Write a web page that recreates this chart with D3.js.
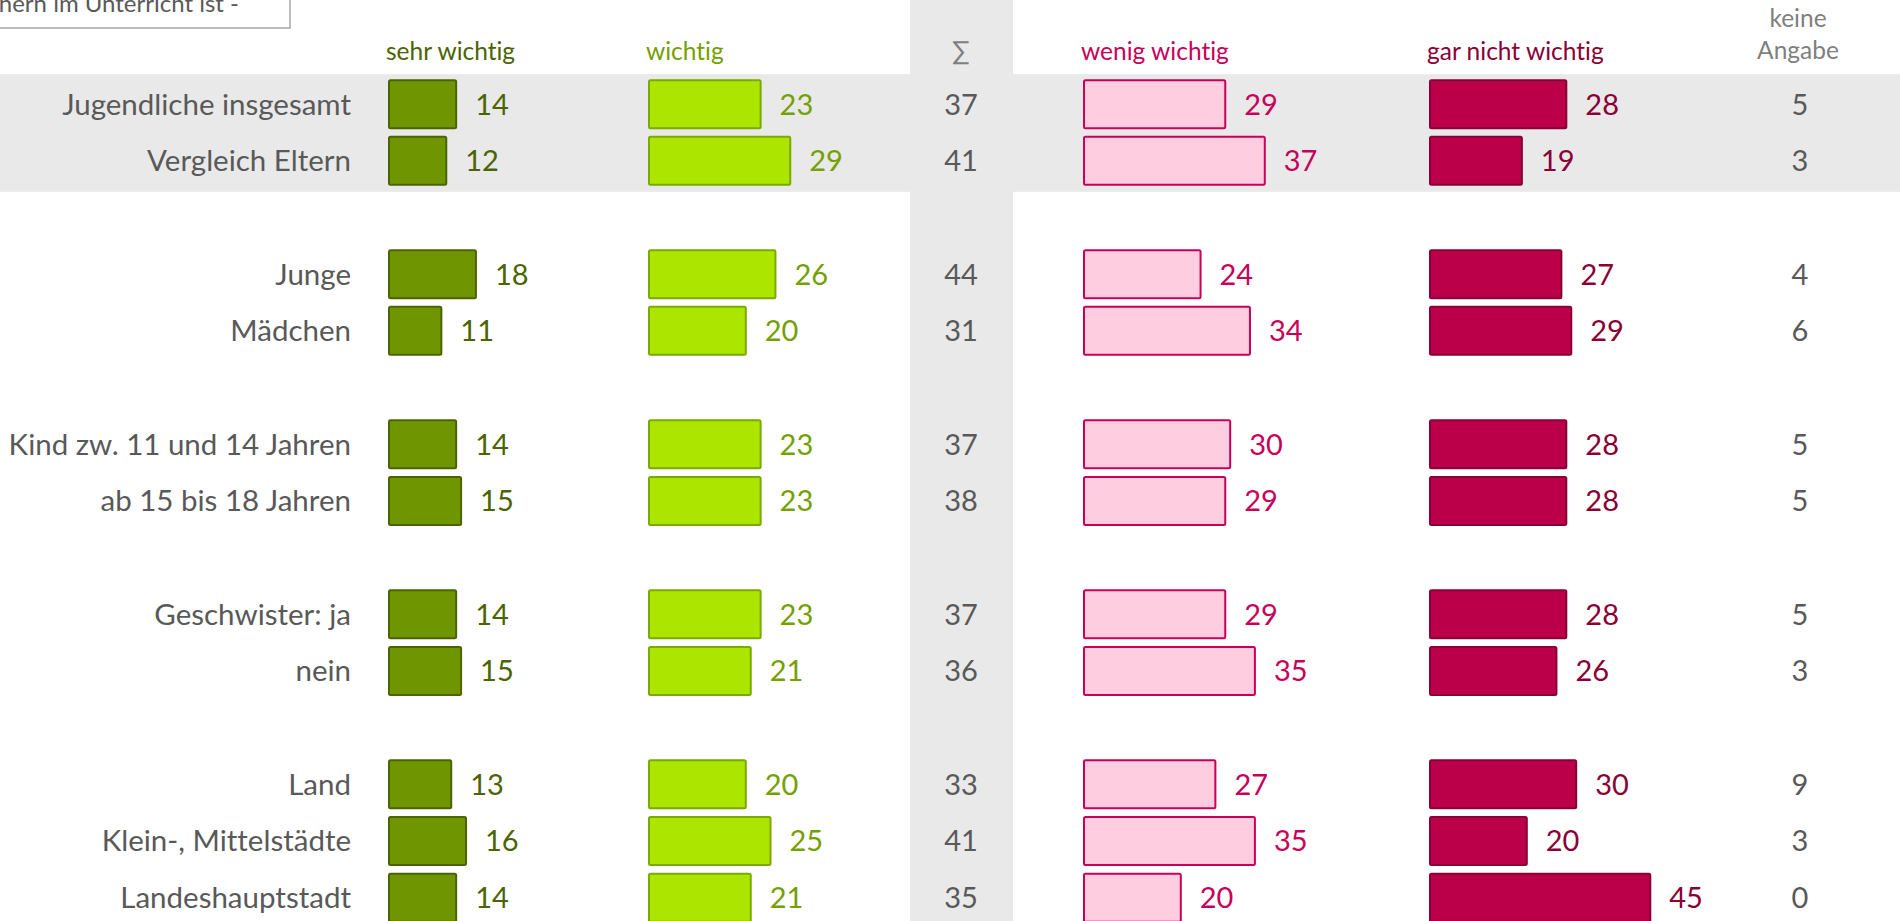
<!DOCTYPE html>
<html>
<head>
<meta charset="utf-8">
<script src="https://cdn.jsdelivr.net/npm/d3@7"></script>
<style>
  html, body { margin: 0; padding: 0; background: #fff; overflow: hidden; }
  svg { display: block; font-family: Lato, "Open Sans", sans-serif; font-variant-ligatures: none; }
</style>
</head>
<body>
<svg id="chart"></svg>
<script>
// categories, grouped (a blank row sits between groups)
var rows = ['Jugendliche insgesamt', 'Vergleich Eltern', 'Junge', 'Mädchen',
  'Kind zw. 11 und 14 Jahren', 'ab 15 bis 18 Jahren', 'Geschwister: ja', 'nein',
  'Land', 'Klein-, Mittelstädte', 'Landeshauptstadt']
var group = [0, 0, 1, 1, 2, 2, 3, 3, 4, 4, 4]

var sehrWichtig  = [14, 12, 18, 11, 14, 15, 14, 15, 13, 16, 14]
var wichtig      = [23, 29, 26, 20, 23, 23, 23, 21, 20, 25, 21]
var summe        = [37, 41, 44, 31, 37, 38, 37, 36, 33, 41, 35]
var wenigWichtig = [29, 37, 24, 34, 30, 29, 29, 35, 27, 35, 20]
var garNicht     = [28, 19, 27, 29, 28, 28, 28, 26, 30, 20, 45]
var keineAngabe  = [5, 3, 4, 6, 5, 5, 5, 3, 9, 3, 0]

var W = 1900, H = 921
  , step = 56.68
  , top0 = 104.15 - step / 2
  , grey = '#e9e9e9'
  , textGrey = '#595959'
  , fs = 29

var svg = d3.select('#chart').attr('width', W).attr('height', H)

var y = d3.scaleBand()
  .domain(d3.range(15))
  .range([top0, top0 + 15 * step])
  .paddingInner(0.118)
  .paddingOuter(0.059)

var x = d3.scaleLinear().domain([0, 100]).range([0, 494])

function slot(i){ return i + group[i] }
function mid(i){ return y(slot(i)) + y.bandwidth() / 2 }

// grey backgrounds: total rows and the sum column
svg.append('rect')
  .attr('x', 0).attr('width', W)
  .attr('y', y(0) - 5).attr('height', y(1) + y.bandwidth() - y(0) + 11)
  .attr('fill', grey)
svg.append('rect')
  .attr('x', 910).attr('width', 103).attr('y', 0).attr('height', H)
  .attr('fill', grey)

// cut-off title box
svg.append('rect')
  .attr('x', -10).attr('y', -10).attr('width', 300).attr('height', 38)
  .attr('fill', '#fff').attr('stroke', '#a6a6a6').attr('stroke-width', 1.5)
svg.append('text')
  .attr('x', 239).attr('y', 12).attr('text-anchor', 'end')
  .attr('font-size', 24).attr('fill', textGrey)
  .text('hern im Unterricht ist -')

// row labels
svg.append('g').selectAll('text').data(rows)
  .enter().append('text')
    .attr('x', 351).attr('y', function(d, i){ return mid(i) + 10.5 })
    .attr('text-anchor', 'end')
    .attr('font-size', 29.5).attr('fill', textGrey)
    .text(function(d){ return d })

var series = [
    { name: 'sehr wichtig', values: sehrWichtig, x0: 388, fill: '#6f9600', stroke: '#4b6400', label: '#4b6400', head: '#4b6400' }
  , { name: 'wichtig', values: wichtig, x0: 648, fill: '#ace600', stroke: '#7aaa00', label: '#74a000', head: '#74a000' }
  , { name: 'wenig wichtig', values: wenigWichtig, x0: 1083, fill: '#ffcce0', stroke: '#c8005a', label: '#c8005a', head: '#c8005a' }
  , { name: 'gar nicht wichtig', values: garNicht, x0: 1429, fill: '#bb0049', stroke: '#8a0036', label: '#8a0036', head: '#8a0036' }
]

series.forEach(function(s){
  var g = svg.append('g').attr('class', 'series')

  g.append('text')
    .attr('x', s.x0 - 2).attr('y', 60)
    .attr('font-size', 24.5).attr('fill', s.head)
    .text(s.name)

  g.selectAll('rect').data(s.values)
    .enter().append('rect')
      .attr('x', s.x0 + 1)
      .attr('y', function(d, i){ return y(slot(i)) + 1 })
      .attr('width', function(d){ return x(d) - 2 })
      .attr('height', y.bandwidth() - 2)
      .attr('rx', 1.5)
      .attr('fill', s.fill).attr('stroke', s.stroke).attr('stroke-width', 2)

  g.selectAll('text.val').data(s.values)
    .enter().append('text').attr('class', 'val')
      .attr('x', function(d){ return s.x0 + x(d) + 18 })
      .attr('y', function(d, i){ return mid(i) + 10.5 })
      .attr('font-size', fs).attr('fill', s.label)
      .text(function(d){ return d })
})

// sum column
svg.append('text')
  .attr('x', 961).attr('y', 60).attr('text-anchor', 'middle')
  .attr('font-size', 26).attr('fill', '#7f7f7f')
  .text('∑')
svg.append('g').selectAll('text').data(summe)
  .enter().append('text')
    .attr('x', 961).attr('y', function(d, i){ return mid(i) + 10.5 })
    .attr('text-anchor', 'middle')
    .attr('font-size', fs).attr('fill', textGrey)
    .text(function(d){ return d })

// keine Angabe column
var ka = svg.append('text')
  .attr('x', 1798).attr('text-anchor', 'middle')
  .attr('font-size', 24.5).attr('fill', '#7f7f7f')
ka.append('tspan').attr('x', 1798).attr('y', 27).text('keine')
ka.append('tspan').attr('x', 1798).attr('y', 59).text('Angabe')

svg.append('g').selectAll('text').data(keineAngabe)
  .enter().append('text')
    .attr('x', 1800).attr('y', function(d, i){ return mid(i) + 10.5 })
    .attr('text-anchor', 'middle')
    .attr('font-size', fs).attr('fill', textGrey)
    .text(function(d){ return d })
</script>
</body>
</html>
